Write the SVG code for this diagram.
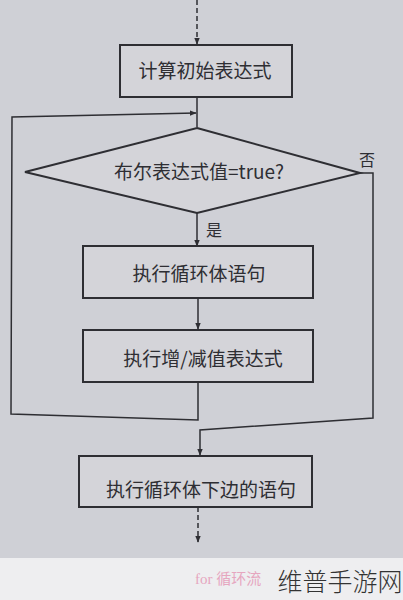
<svg xmlns="http://www.w3.org/2000/svg" width="403" height="600" viewBox="0 0 403 600">
<defs>
<marker id="ah" viewBox="0 0 10 10" refX="9" refY="5" markerWidth="7" markerHeight="7" orient="auto" markerUnits="userSpaceOnUse">
<path d="M0,1 L10,5 L0,9 z" fill="#2e2e33"/>
</marker>
</defs>
<style>
.box{fill:#d4d4d9;stroke:#2e2e33;stroke-width:2}
.ln{fill:none;stroke:#2e2e33;stroke-width:1.5}
.dash{stroke-dasharray:5 3}
.t{font-family:"Noto Sans CJK SC","Liberation Serif",serif;font-size:19px;fill:#2e2e33;text-anchor:middle}
.s{font-family:"Noto Sans CJK SC",serif;font-size:16px;fill:#2e2e33;text-anchor:middle}
</style>
<rect x="0" y="0" width="403" height="560" fill="#cfd0d6"/>
<rect x="0" y="558" width="403" height="42" fill="#eeeef0"/>
<g id="connectors">
<line class="ln dash" x1="197" y1="0" x2="197" y2="44" marker-end="url(#ah)"/>
<line class="ln" x1="197" y1="97" x2="197" y2="127"/>
<polyline class="ln" points="198,382 198,420 11,414 12,117 196,113" marker-end="url(#ah)"/>
<line class="ln" x1="197" y1="213" x2="197" y2="246" marker-end="url(#ah)"/>
<line class="ln" x1="198" y1="298" x2="198" y2="329" marker-end="url(#ah)"/>
<polyline class="ln" points="360,173 373,173 373,418 200,430 200,455" marker-end="url(#ah)"/>
<line class="ln dash" x1="198" y1="507" x2="198" y2="542" marker-end="url(#ah)"/>
<text class="s" x="367" y="166">否</text>
<text class="s" x="214" y="236">是</text>
</g>
<g id="n1">
<rect class="box" x="120" y="45" width="172" height="52"/>
<text class="t" x="205" y="78">计算初始表达式</text>
</g>
<g id="n2">
<polygon class="box" points="197,128 360,173 197,213 25,172"/>
<text class="t" x="199" y="179">布尔表达式值=true?</text>
</g>
<g id="n3">
<rect class="box" x="83" y="246" width="230" height="52"/>
<text class="t" x="199" y="281">执行循环体语句</text>
</g>
<g id="n4">
<rect class="box" x="83" y="330" width="230" height="52"/>
<text class="t" x="203" y="366">执行增/减值表达式</text>
</g>
<g id="n5">
<rect class="box" x="79" y="456" width="233" height="51"/>
<text class="t" x="201" y="497">执行循环体下边的语句</text>
</g>
<text x="195" y="584" font-family="'Liberation Serif','Noto Sans CJK SC',serif" font-size="15" fill="#e6a6bf">for 循环流</text>
<text x="340" y="591" font-family="'Noto Sans CJK SC',sans-serif" font-size="25" font-weight="300" fill="#333" text-anchor="middle">维普手游网</text>
</svg>
